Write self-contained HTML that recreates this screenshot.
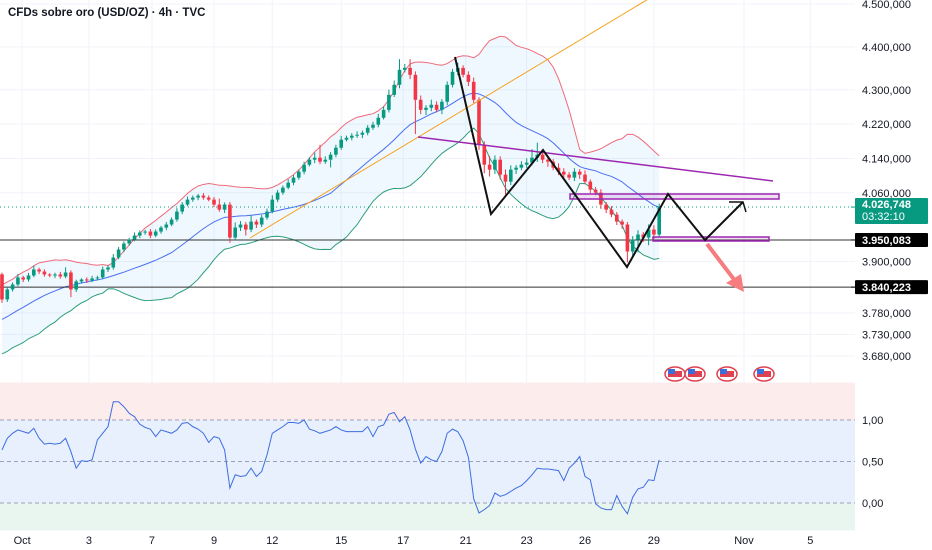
<!DOCTYPE html>
<html><head><meta charset="utf-8"><style>
html,body{margin:0;padding:0;background:#fff;}
svg{display:block;font-family:"Liberation Sans",sans-serif;}
</style></head><body>
<svg id="c" width="932" height="550" viewBox="0 0 932 550" xmlns="http://www.w3.org/2000/svg">
</svg>
<script>
// ---- DATA ----
const preCloses=[3690,3705,3698,3712,3725,3718,3735,3748,3740,3756,3770,3762,3778,3790,3784,3798,3812,3805,3822,3830];
const closes=[3811.5,3834.8,3846.4,3862.7,3858.0,3867.3,3881.3,3876.6,3869.7,3867.3,3869.7,3865.0,3874.3,3834.8,3853.4,3858.0,3855.7,3860.4,3862.7,3881.3,3885.9,3909.2,3927.8,3941.8,3951.1,3960.4,3967.3,3969.7,3960.4,3969.7,3979.0,3986.0,3997.6,4016.2,4032.5,4044.1,4048.8,4053.4,4048.8,4044.1,4032.5,4020.8,4032.5,3955.7,3979.0,3986.0,3974.3,3992.9,3986.0,4002.2,4016.2,4044.1,4060.4,4072.0,4083.6,4095.3,4109.2,4125.5,4137.1,4141.8,4132.5,4137.1,4148.8,4165.0,4183.7,4188.3,4193.0,4195.3,4200.0,4211.6,4218.6,4234.8,4253.2,4288.3,4311.6,4346.5,4351.1,4334.9,4276.7,4253.2,4258.1,4265.1,4253.2,4272.1,4311.6,4341.8,4351.1,4334.9,4318.6,4276.7,4172.0,4125.5,4113.9,4137.1,4102.3,4086.0,4113.9,4118.5,4125.5,4130.2,4141.8,4148.8,4137.1,4132.5,4118.5,4109.2,4102.3,4095.3,4109.2,4102.3,4086.0,4067.4,4060.4,4032.5,4020.8,4009.2,3992.9,3986.0,3923.1,3951.1,3962.7,3955.7,3974.3,3962.7,4026.7];
const wickHi=[4,6,5,8,4,6,9,4,5,3,4,6,12,5,4,3,5,6,4,7,5,8,6,5,4,7,5,4,6,5,4,6,5,8,6,7,5,4,6,5,6,14,5,6,12,8,6,14,5,6,7,10,6,5,8,6,5,7,6,12,30,8,6,7,9,5,6,8,5,6,7,9,8,12,10,25,9,20,8,10,6,12,8,6,8,7,12,6,8,10,6,8,20,10,8,12,10,6,8,10,20,28,10,8,6,10,8,6,8,6,10,5,6,8,6,8,6,5,6,8,10,6,12,10,8];
const wickLo=[8,6,5,4,6,5,4,6,5,4,6,5,4,18,6,5,6,4,5,4,6,5,4,6,5,4,6,5,6,4,5,6,4,5,6,4,5,6,5,4,6,5,8,12,6,8,14,6,8,6,5,4,6,5,4,6,5,6,4,8,6,5,18,6,5,4,6,5,8,6,5,6,4,6,5,8,6,10,80,10,12,8,6,10,8,6,8,6,10,8,12,20,16,10,12,30,8,10,6,8,6,10,8,12,6,8,10,6,8,10,6,8,6,10,8,6,8,10,25,12,30,10,18,10,6];
const indVals=[0.64,0.78,0.84,0.88,0.86,0.84,0.90,0.78,0.71,0.72,0.71,0.72,0.78,0.62,0.42,0.51,0.50,0.52,0.76,0.84,0.92,1.22,1.22,1.16,1.08,1.04,0.95,0.91,0.89,0.80,0.88,0.86,0.84,0.88,0.96,0.97,0.92,0.89,0.84,0.73,0.80,0.78,0.64,0.18,0.34,0.32,0.33,0.42,0.32,0.38,0.58,0.84,0.88,0.92,0.97,0.97,0.96,1.00,0.89,0.87,0.84,0.86,0.88,0.92,0.88,0.86,0.86,0.86,0.86,0.92,0.80,0.92,0.94,1.07,1.09,0.98,1.04,0.88,0.65,0.48,0.56,0.52,0.50,0.62,0.84,0.89,0.86,0.75,0.55,0.05,-0.12,-0.08,-0.03,0.12,0.08,0.10,0.14,0.18,0.21,0.27,0.34,0.42,0.41,0.41,0.40,0.39,0.27,0.42,0.48,0.56,0.32,0.28,-0.01,-0.06,-0.08,-0.08,0.09,-0.04,-0.13,0.07,0.17,0.19,0.28,0.27,0.52];
const priceTicks=[4500,4400,4300,4220,4140,4060,3900,3780,3730,3680];
const indTicks=[1,0.5,0];
const indTickLabels=["1,00","0,50","0,00"];
const dateLabels=["Oct","3","7","9","12","15","17","21","23","26","29","Nov","5"];
const dateIdx=[3.8,16.4,28.3,40,51,64,75.7,87.5,99,110,123,140,152.5];
const lastPrice=4026.748, lvl1=3950.083, lvl2=3840.223;

// ---- SCALES ----
const NS="http://www.w3.org/2000/svg";
const svg=document.getElementById('c');
const X=i=>2+i*5.3;
const Y=p=>240+(3950-p)/2.33;
const YI=v=>503-v*83;
const PW=855;
function el(tag,attrs,parent){const e=document.createElementNS(NS,tag);for(const k in attrs)e.setAttribute(k,attrs[k]);(parent||svg).appendChild(e);return e;}
function fmt(p){const s=p.toFixed(3);const [a,b]=s.split('.');return a[0]+'.'+a.slice(1)+','+b;}

// grid
const grid=el('g',{});


dateIdx.forEach(i=>{el('line',{x1:X(i),x2:X(i),y1:0,y2:530,stroke:'#f0f3fa','stroke-width':1},grid);});
priceTicks.forEach(p=>{el('line',{x1:0,x2:PW,y1:Y(p),y2:Y(p),stroke:'#f0f3fa','stroke-width':1},grid);});

// bollinger bands computed from closes (with prior history)
const all=preCloses.concat(closes), off=preCloses.length;
const up=[],mid=[],lo=[];
for(let i=0;i<closes.length;i++){const j=i+off;const w=all.slice(j-19,j+1);const m=w.reduce((a,b)=>a+b,0)/w.length;const sd=Math.sqrt(w.reduce((a,b)=>a+(b-m)*(b-m),0)/w.length);mid.push(m);up.push(m+2*sd);lo.push(m-2*sd);}
const bb=el('g',{});


let fillD='M'+up.map((v,i)=>X(i)+','+Y(v)).join(' L')+' L'+lo.map((v,i)=>X(i)+','+Y(v)).reverse().join(' L')+'Z';
el('path',{d:fillD,fill:'rgba(33,150,243,0.07)',stroke:'none'},bb);
const pl=(arr,col)=>el('polyline',{points:arr.map((v,i)=>X(i)+','+Y(v)).join(' '),fill:'none',stroke:col,'stroke-width':1},bb);
pl(up,'#f06a7a');pl(mid,'#4a6ff0');pl(lo,'#2e9e7a');

// horizontal levels
const lv=el('g',{});


el('line',{x1:0,x2:PW,y1:Y(lastPrice),y2:Y(lastPrice),stroke:'#089981','stroke-width':1,'stroke-dasharray':'1,3'},lv);
el('line',{x1:0,x2:PW,y1:Y(lvl1),y2:Y(lvl1),stroke:'#333','stroke-width':1},lv);
el('line',{x1:0,x2:PW,y1:Y(lvl2),y2:Y(lvl2),stroke:'#333','stroke-width':1},lv);

// candles
const cg=el('g',{});


for(let i=0;i<closes.length;i++){
  const o=i?closes[i-1]:3870, c=closes[i];
  const hi=Math.max(o,c)+wickHi[i], l=Math.min(o,c)-wickLo[i];
  const col=c>=o?'#089981':'#f23645';
  const g=el('g',{},cg);
  
  
  el('line',{x1:X(i),x2:X(i),y1:Y(hi),y2:Y(l),stroke:col,'stroke-width':1},g);
  const yt=Y(Math.max(o,c)),yb=Y(Math.min(o,c));
  el('rect',{x:X(i)-1.8,y:yt,width:3.6,height:Math.max(1,yb-yt),fill:col},g);
}

// drawings
const dr=el('g',{});


el('line',{x1:250,y1:238,x2:650,y2:-2,stroke:'#f7a21b','stroke-width':1},dr);
el('line',{x1:418,y1:137,x2:773,y2:181,stroke:'#9c27b0','stroke-width':1.5},dr);
el('rect',{x:570,y:194,width:209,height:5,fill:'rgba(156,39,176,0.15)',stroke:'#9c27b0','stroke-width':1.5},dr);
el('rect',{x:653,y:237,width:116,height:4,fill:'rgba(156,39,176,0.15)',stroke:'#9c27b0','stroke-width':1.5},dr);
el('polyline',{points:'455,57 491,214 543,150 627,267 668,194 705,240 743,202',fill:'none',stroke:'#111','stroke-width':2},dr);
el('polyline',{points:'729,202 743,202 746,212',fill:'none',stroke:'#111','stroke-width':1.5},dr);
el('line',{x1:707,y1:244,x2:736,y2:282,stroke:'#f77c80','stroke-width':4},dr);
el('polygon',{points:'726,283 744,292 741,274',fill:'#f77c80'},dr);

// events
const ev=el('g',{});


[675,695,727,764].forEach(x=>{el('ellipse',{cx:x,cy:374,rx:10,ry:7,fill:'#fff',stroke:'#e04050','stroke-width':1.5},ev);el('rect',{x:x-7,y:371,width:14,height:6,fill:'#e04050'},ev);el('rect',{x:x-7,y:369,width:7,height:5,fill:'#3d6fd8'},ev);});

// indicator pane
const ip=el('g',{});


el('rect',{x:0,y:YI(1.45),width:PW,height:YI(1)-YI(1.45),fill:'#fdecec'},ip);
el('rect',{x:0,y:YI(1),width:PW,height:YI(0)-YI(1),fill:'#e8effd'},ip);
el('rect',{x:0,y:YI(0),width:PW,height:YI(-0.33)-YI(0),fill:'#e9f5ef'},ip);
indTicks.forEach((v,k)=>{el('line',{x1:0,x2:PW,y1:YI(v),y2:YI(v),stroke:'#9aa0b8','stroke-width':1,'stroke-dasharray':'4,3'},ip);
  const t=el('text',{x:862,y:YI(v)+4,'font-size':11,fill:'#131722'},ip);t.textContent=indTickLabels[k];
  
  });
const il=el('polyline',{points:indVals.map((v,i)=>X(i)+','+YI(v)).join(' '),fill:'none',stroke:'#3c6ee0','stroke-width':1},ip);



// price axis
const ax=el('g',{});


priceTicks.forEach(p=>{const t=el('text',{x:862,y:Y(p)+4,'font-size':11,fill:'#131722'},ax);t.textContent=fmt(p);});
function tag(p,bg,txt,h,sub){const y=Y(p);el('line',{x1:PW-4,x2:PW+4,y1:y,y2:y,stroke:bg},ax);el('rect',{x:PW,y:y-(sub?9:7),width:73,height:h,fill:bg,rx:1},ax);const t=el('text',{x:862,y:y+(sub?1:4),'font-size':11,'font-weight':'bold',fill:'#fff'},ax);t.textContent=txt;if(sub){const s=el('text',{x:862,y:y+13,'font-size':11,fill:'#fff'},ax);s.textContent=sub;}}
tag(lastPrice,'#089981',fmt(lastPrice),26,'03:32:10');
tag(lvl1,'#000',fmt(lvl1),14);
tag(lvl2,'#000',fmt(lvl2),14);

// time axis
const ta=el('g',{});


dateLabels.forEach((s,k)=>{const t=el('text',{x:X(dateIdx[k]),y:544,'font-size':11,fill:'#131722','text-anchor':'middle'},ta);t.textContent=s;});

// title
const tt=el('text',{x:8,y:16,'font-size':11.5,'font-weight':'bold',fill:'#131722'});
tt.textContent='CFDs sobre oro (USD/OZ) · 4h · TVC';


</script>
</body></html>
